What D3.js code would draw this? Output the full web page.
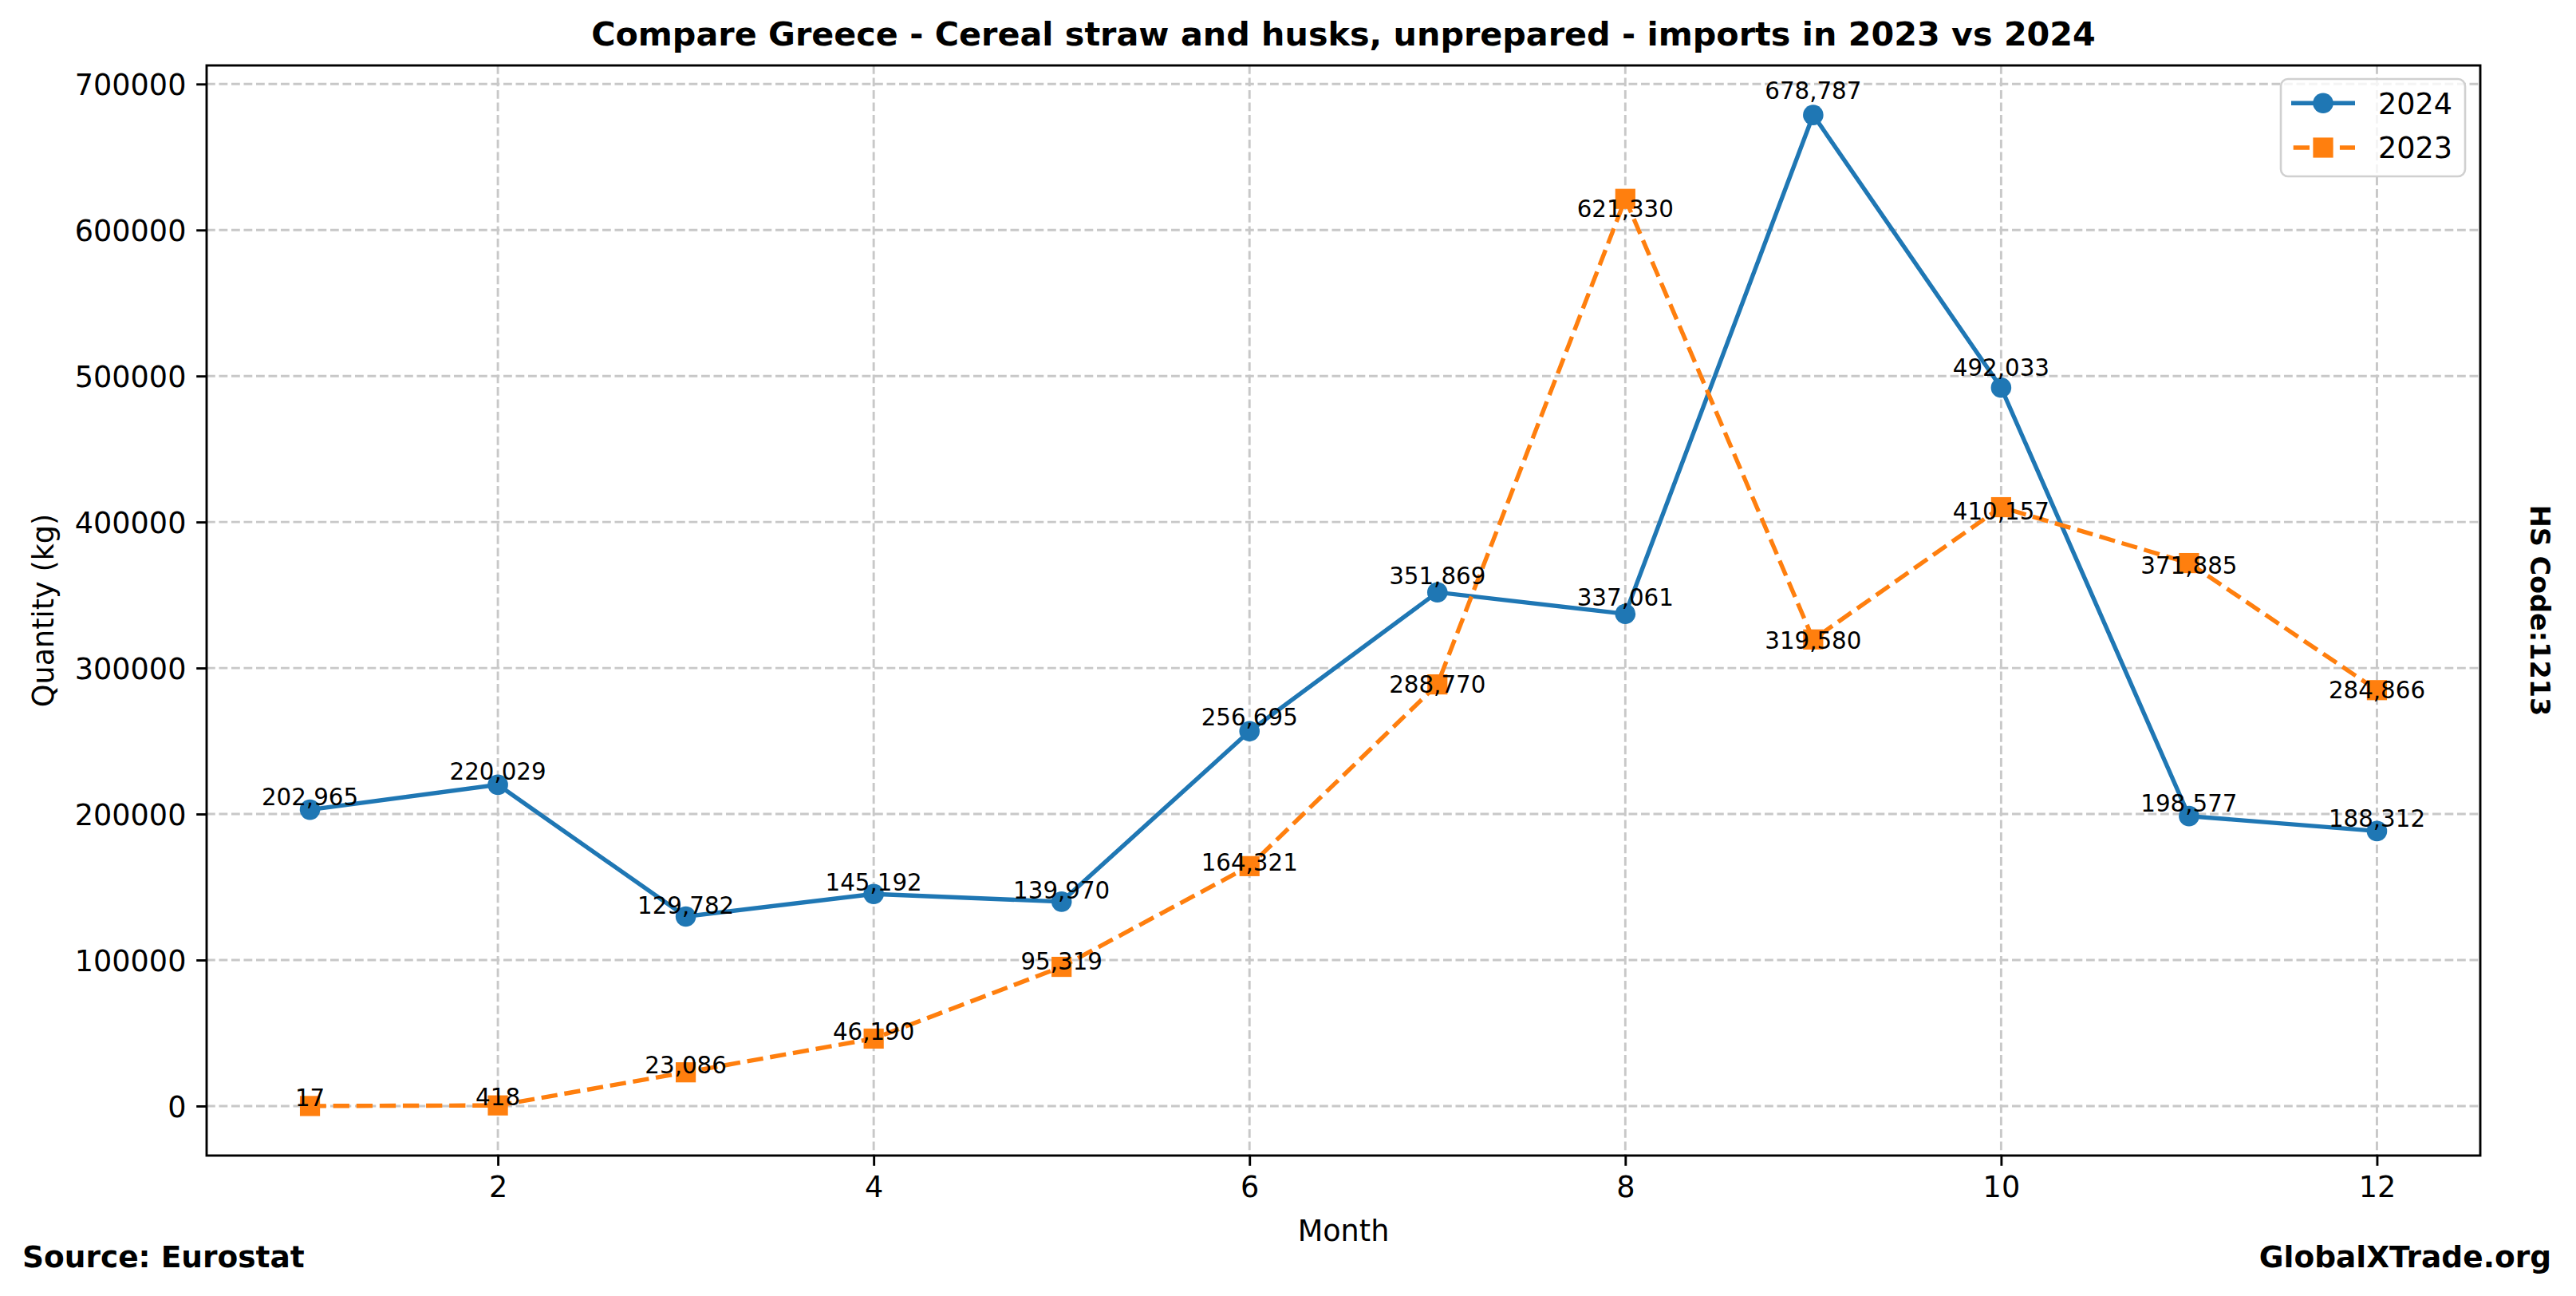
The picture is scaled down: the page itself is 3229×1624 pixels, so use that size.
<!DOCTYPE html>
<html>
<head>
<meta charset="utf-8">
<script src="https://cdn.jsdelivr.net/npm/d3@7"></script>
<style>
html, body { margin: 0; padding: 0; background: #fff; }
svg { display: block; font-family: "DejaVu Sans", sans-serif; }
</style>
</head>
<body>
<script>
// ---- data ----
const months = [1, 2, 3, 4, 5, 6, 7, 8, 9, 10, 11, 12];
const values2024 = [202965, 220029, 129782, 145192, 139970, 256695, 351869, 337061, 678787, 492033, 198577, 188312];
const values2023 = [17, 418, 23086, 46190, 95319, 164321, 288770, 621330, 319580, 410157, 371885, 284866];
const seriesNames = ["2024", "2023"];
const xTicks = [2, 4, 6, 8, 10, 12];
const yTicks = [0, 100000, 200000, 300000, 400000, 500000, 600000, 700000];
const titleText = "Compare Greece - Cereal straw and husks, unprepared - imports in 2023 vs 2024";
const xLabel = "Month";
const yLabel = "Quantity (kg)";
const sourceText = "Source: Eurostat";
const siteText = "GlobalXTrade.org";
const hsText = "HS Code:1213";

// ---- layout / style ----
const W = 3229, H = 1624;
const plot = { left: 259, right: 3109, top: 82, bottom: 1448 };
const colors = ["#1f77b4", "#ff7f0e"];
const labelFactor = [1.016, 0.98];
const fs = 36.6, fsSmall = 29.3;

const svg = d3.select("body").append("svg").attr("width", W).attr("height", H);
svg.append("rect").attr("width", W).attr("height", H).attr("fill", "#fff");

const allVals = values2024.concat(values2023);
const [yMin, yMax] = d3.extent(allVals);
const yPad = (yMax - yMin) * 0.05;
const [xMin, xMax] = d3.extent(months);
const xPad = (xMax - xMin) * 0.05;

const x = d3.scaleLinear().domain([xMin - xPad, xMax + xPad]).range([plot.left, plot.right]);
const y = d3.scaleLinear().domain([yMin - yPad, yMax + yPad]).range([plot.bottom, plot.top]);

// grid
const grid = svg.append("g").attr("stroke", "#c8c8c8").attr("stroke-width", 2.9).attr("stroke-dasharray", "10.8,4.7");
grid.selectAll("line.v").data(xTicks).join("line").attr("class", "v")
  .attr("x1", d => x(d)).attr("x2", d => x(d)).attr("y1", plot.top).attr("y2", plot.bottom);
grid.selectAll("line.h").data(yTicks).join("line").attr("class", "h")
  .attr("x1", plot.left).attr("x2", plot.right).attr("y1", d => y(d)).attr("y2", d => y(d));

// axes
const xAxis = d3.axisBottom(x).tickValues(xTicks).tickSize(12.8).tickPadding(12.8).tickFormat(d3.format("d"));
const yAxis = d3.axisLeft(y).tickValues(yTicks).tickSize(12.8).tickPadding(12.8).tickFormat(d3.format("d"));
const gx = svg.append("g").attr("transform", `translate(0,${plot.bottom})`).call(xAxis);
const gy = svg.append("g").attr("transform", `translate(${plot.left},0)`).call(yAxis);
[gx, gy].forEach(g => {
  g.select(".domain").remove();
  g.selectAll(".tick line").attr("stroke", "#000").attr("stroke-width", 2.9);
  g.selectAll(".tick text").attr("fill", "#000").attr("font-size", fs).attr("font-family", "DejaVu Sans");
});
gy.selectAll(".tick text").attr("dy", "0.36em");
gx.selectAll(".tick text").attr("dy", "0.73em");

// series
const seriesData = [values2024, values2023];
const line = d3.line().x((d, i) => x(months[i])).y(d => y(d));
const seriesG = svg.append("g");
seriesData.forEach((vals, s) => {
  seriesG.append("path").datum(vals)
    .attr("d", line).attr("fill", "none").attr("stroke", colors[s]).attr("stroke-width", 5.4)
    .attr("stroke-dasharray", s === 1 ? "20.3,8.8" : null);
});
seriesData.forEach((vals, s) => {
  const g = seriesG.append("g");
  if (s === 0) {
    g.selectAll("circle").data(vals).join("circle")
      .attr("cx", (d, i) => x(months[i])).attr("cy", d => y(d)).attr("r", 12.8).attr("fill", colors[s]);
  } else {
    g.selectAll("rect").data(vals).join("rect")
      .attr("x", (d, i) => x(months[i]) - 12.6).attr("y", d => y(d) - 12.6)
      .attr("width", 25.2).attr("height", 25.2).attr("fill", colors[s]);
  }
});
// value labels
const fmt = d3.format(",");
seriesData.forEach((vals, s) => {
  svg.append("g").selectAll("text").data(vals).join("text")
    .attr("x", (d, i) => x(months[i])).attr("y", d => y(d * labelFactor[s]))
    .attr("text-anchor", "middle").attr("font-size", fsSmall).attr("fill", "#000")
    .text(d => fmt(d));
});

// frame
svg.append("rect").attr("x", plot.left).attr("y", plot.top)
  .attr("width", plot.right - plot.left).attr("height", plot.bottom - plot.top)
  .attr("fill", "none").attr("stroke", "#000").attr("stroke-width", 2.9);

// legend
const lg = svg.append("g");
lg.append("rect").attr("x", 2859).attr("y", 99).attr("width", 231).attr("height", 122)
  .attr("rx", 9).attr("fill", "rgba(255,255,255,0.8)").attr("stroke", "#d0d0d0").attr("stroke-width", 2.6);
seriesNames.forEach((name, s) => {
  const cy = 129.3 + s * 55.7;
  lg.append("line").attr("x1", 2872).attr("x2", 2952).attr("y1", cy).attr("y2", cy)
    .attr("stroke", colors[s]).attr("stroke-width", 5.4).attr("stroke-dasharray", s === 1 ? "20.3,8.8" : null)
    .attr("stroke-dashoffset", s === 1 ? -2.7 : null);
  if (s === 0) lg.append("circle").attr("cx", 2912).attr("cy", cy).attr("r", 12.8).attr("fill", colors[s]);
  else lg.append("rect").attr("x", 2912 - 12.6).attr("y", cy - 12.6).attr("width", 25.2).attr("height", 25.2).attr("fill", colors[s]);
  lg.append("text").attr("x", 2981).attr("y", cy + 13.2).attr("font-size", fs).attr("fill", "#000").text(name);
});

// titles
svg.append("text").attr("x", (plot.left + plot.right) / 2).attr("y", 57)
  .attr("text-anchor", "middle").attr("font-size", 41.3).attr("font-weight", "bold").text(titleText);
svg.append("text").attr("x", (plot.left + plot.right) / 2).attr("y", 1555)
  .attr("text-anchor", "middle").attr("font-size", fs).text(xLabel);
svg.append("text").attr("transform", `translate(67,${(plot.top + plot.bottom) / 2}) rotate(-90)`)
  .attr("text-anchor", "middle").attr("font-size", fs).text(yLabel);
svg.append("text").attr("transform", `translate(3172,${(plot.top + plot.bottom) / 2}) rotate(90)`)
  .attr("text-anchor", "middle").attr("font-size", 33.5).attr("font-weight", "bold").text(hsText);
svg.append("text").attr("x", 28).attr("y", 1588).attr("font-size", 37.5).attr("font-weight", "bold").text(sourceText);
svg.append("text").attr("x", 3198).attr("y", 1588).attr("text-anchor", "end").attr("font-size", 37.5).attr("font-weight", "bold").text(siteText);
</script>
</body>
</html>
